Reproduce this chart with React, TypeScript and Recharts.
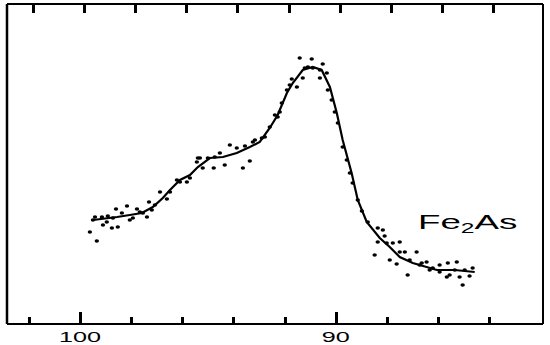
import React from "react";
import { ComposedChart, Line, Scatter, XAxis, YAxis } from "recharts";

// binding energy axis (eV), drawn high -> low
const tickEnergies = [102, 100, 98, 96, 94, 92, 90, 88, 86, 84];
const labeledEnergies = [100, 90];

// smoothed curve
const lineEnergy = [
	99.49, 98.55, 98.05, 97.58, 97.15, 96.76, 96.48, 96.09, 95.7, 95.39, 94.92,
	94.41, 93.87, 93.36, 92.97, 92.58, 92.27, 91.91, 91.68, 91.29, 90.9, 90.55,
	90.23, 89.96, 89.73, 89.38, 89.14, 88.79, 88.28, 87.89, 87.5, 86.99, 86.45,
	86.05, 85.35, 84.57,
];
const lineCounts = [
	104, 107, 109, 111, 117, 126, 134, 144, 149, 157, 166, 167, 171, 177, 182,
	196, 209, 231, 241, 254, 257, 254, 237, 211, 184, 151, 124, 102, 86, 77, 67,
	61, 57, 54, 54, 52,
];

// measured points
const dotEnergy = [
	99.61, 99.49, 99.41, 99.34, 99.14, 99.1, 98.95, 98.91, 98.75, 98.71, 98.59,
	98.52, 98.36, 98.16, 98.05, 97.93, 97.77, 97.66, 97.54, 97.38, 97.3, 97.19,
	97.07, 96.87, 96.6, 96.48, 96.21, 96.09, 95.82, 95.7, 95.43, 95.39, 95.31,
	95.2, 95.0, 94.77, 94.73, 94.53, 94.34, 94.14, 93.87, 93.63, 93.55, 93.36,
	93.24, 93.16, 92.89, 92.77, 92.58, 92.38, 92.27, 92.19, 92.11, 91.91, 91.8,
	91.72, 91.52, 91.41, 91.29, 91.21, 91.09, 90.94, 90.9, 90.62, 90.62, 90.51,
	90.35, 90.31, 90.16, 90.04, 89.92, 89.73, 89.57, 89.45, 89.34, 89.14, 88.98,
	88.75, 88.48, 88.36, 88.36, 88.16, 88.09, 88.01, 87.89, 87.77, 87.62, 87.5,
	87.5, 87.3, 87.19, 87.11, 86.84, 86.72, 86.64, 86.45, 86.33, 86.21, 85.94,
	85.94, 85.66, 85.62, 85.55, 85.35, 85.27, 85.16, 85.04, 84.96, 84.77, 84.65,
];
const dotCounts = [
	92, 104, 107, 83, 107, 99, 102, 108, 96, 106, 115, 97, 111, 118, 104, 106,
	115, 112, 111, 107, 122, 114, 119, 132, 125, 132, 144, 142, 142, 146, 162,
	166, 166, 156, 166, 156, 167, 171, 159, 179, 176, 156, 178, 163, 182, 184,
	186, 187, 197, 209, 207, 212, 221, 234, 239, 245, 237, 266, 246, 256, 257,
	265, 256, 254, 246, 260, 251, 234, 224, 212, 201, 177, 164, 151, 141, 124,
	113, 102, 69, 96, 82, 94, 88, 81, 64, 81, 60, 82, 72, 72, 49, 64, 72, 59, 61,
	62, 54, 56, 59, 52, 47, 61, 49, 54, 62, 47, 39, 54, 48, 56,
];

const linePts = lineEnergy.map((e, i) => ({ e, c: lineCounts[i] }));
const dotPts = dotEnergy.map((e, i) => ({ e, c: dotCounts[i] }));

const xDomain = [81.9, 102.85];
const font = "'Liberation Sans', Arial, Helvetica, sans-serif";

const BottomTick = (props: any) => {
	const { x, y, payload } = props;
	const big = labeledEnergies.includes(payload.value);
	const tx = Math.round(x) + 0.5;
	return (
		<g>
			<line x1={tx} x2={tx} y1={y} y2={y - (big ? 12 : 7)} stroke="#000" strokeWidth={3} />
			{big && (
				<g transform={`translate(${x},${y + 18}) scale(1.8,1)`}>
					<text x={0} y={0} textAnchor="middle" fontSize={14} fontFamily={font} fill="#000">
						{payload.value}
					</text>
				</g>
			)}
		</g>
	);
};

const TopTick = (props: any) => {
	const { x, y } = props;
	const tx = Math.round(x) + 4.5;
	return <line x1={tx} x2={tx} y1={y} y2={y + 9} stroke="#000" strokeWidth={3} />;
};

const Dot = (props: any) => (
	<ellipse cx={props.cx} cy={props.cy} rx={2.2} ry={1.7} fill="#000" />
);

export default function App() {
	return (
		<div style={{ position: "absolute", left: 0, top: 0, width: 550, height: 345, background: "#fff" }}>
			<ComposedChart
				width={550}
				height={345}
				margin={{ top: 3, right: 6, bottom: 0, left: 6 }}
			>
				<XAxis
					xAxisId="b"
					dataKey="e"
					type="number"
					domain={xDomain}
					reversed
					allowDataOverflow
					ticks={tickEnergies}
					interval={0}
					height={21}
					tickLine={false}
					tickSize={0}
					tickMargin={0}
					axisLine={{ stroke: "#000", strokeWidth: 2 }}
					tick={<BottomTick />}
				/>
				<XAxis
					xAxisId="t"
					orientation="top"
					dataKey="e"
					type="number"
					domain={xDomain}
					reversed
					allowDataOverflow
					ticks={tickEnergies}
					interval={0}
					height={1}
					tickLine={false}
					tickSize={0}
					tickMargin={0}
					axisLine={{ stroke: "#000", strokeWidth: 2 }}
					tick={<TopTick />}
				/>
				<YAxis
					yAxisId="l"
					dataKey="c"
					type="number"
					domain={[0, 320]}
					allowDataOverflow
					width={1}
					tick={false}
					tickLine={false}
					axisLine={{ stroke: "#000", strokeWidth: 2.5 }}
				/>
				<YAxis
					yAxisId="r"
					orientation="right"
					dataKey="c"
					type="number"
					domain={[0, 320]}
					allowDataOverflow
					width={1}
					tick={false}
					tickLine={false}
					axisLine={{ stroke: "#000", strokeWidth: 2 }}
				/>
				<Line
					xAxisId="b"
					yAxisId="l"
					data={linePts}
					dataKey="c"
					type="linear"
					stroke="#000"
					strokeWidth={2.2}
					dot={false}
					isAnimationActive={false}
				/>
				<Scatter
					xAxisId="b"
					yAxisId="l"
					data={dotPts}
					dataKey="c"
					shape={<Dot />}
					isAnimationActive={false}
				/>
			</ComposedChart>
			<svg width={550} height={345} style={{ position: "absolute", left: 0, top: 0, pointerEvents: "none" }}>
				<g transform="translate(418,229) scale(1.75,1)">
					<text x={0} y={0} fontSize={21} fontFamily={font} fill="#000">
						Fe
						<tspan fontSize={14} dy={4}>2</tspan>
						<tspan dy={-4}>As</tspan>
					</text>
				</g>
			</svg>
		</div>
	);
}
